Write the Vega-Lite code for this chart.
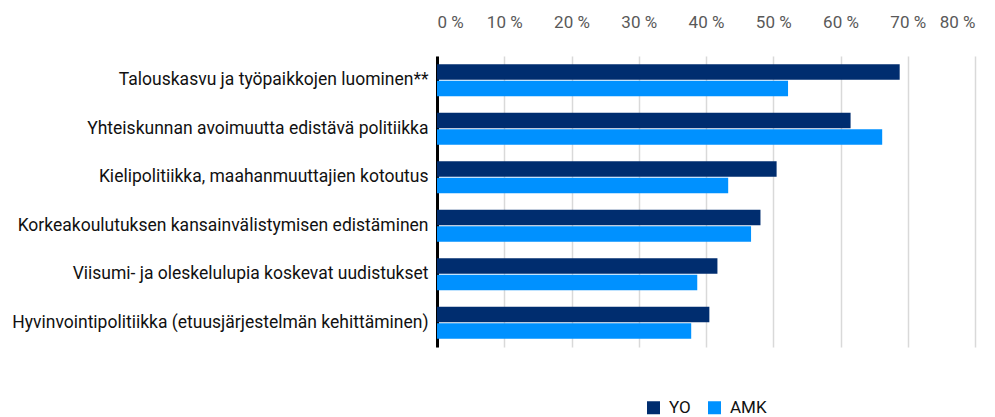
{
  "$schema": "https://vega.github.io/schema/vega-lite/v6.json",
  "autosize": "none",
  "width": 538,
  "height": 291,
  "padding": {"left": 437, "top": 56, "right": 20, "bottom": 70},
  "background": "white",
  "config": {
    "font": "Roboto",
    "view": {"stroke": null},
    "legend": {"layout": {"bottom": {"anchor": "middle"}}}
  },
  "data": {
    "values": [
      {"kategoria": "Talouskasvu ja työpaikkojen luominen**", "ryhma": "YO", "osuus": 68.8},
      {"kategoria": "Talouskasvu ja työpaikkojen luominen**", "ryhma": "AMK", "osuus": 52.2},
      {"kategoria": "Yhteiskunnan avoimuutta edistävä politiikka", "ryhma": "YO", "osuus": 61.5},
      {"kategoria": "Yhteiskunnan avoimuutta edistävä politiikka", "ryhma": "AMK", "osuus": 66.2},
      {"kategoria": "Kielipolitiikka, maahanmuuttajien kotoutus", "ryhma": "YO", "osuus": 50.5},
      {"kategoria": "Kielipolitiikka, maahanmuuttajien kotoutus", "ryhma": "AMK", "osuus": 43.3},
      {"kategoria": "Korkeakoulutuksen kansainvälistymisen edistäminen", "ryhma": "YO", "osuus": 48.1},
      {"kategoria": "Korkeakoulutuksen kansainvälistymisen edistäminen", "ryhma": "AMK", "osuus": 46.7},
      {"kategoria": "Viisumi- ja oleskelulupia koskevat uudistukset", "ryhma": "YO", "osuus": 41.7},
      {"kategoria": "Viisumi- ja oleskelulupia koskevat uudistukset", "ryhma": "AMK", "osuus": 38.7},
      {"kategoria": "Hyvinvointipolitiikka (etuusjärjestelmän kehittäminen)", "ryhma": "YO", "osuus": 40.5},
      {"kategoria": "Hyvinvointipolitiikka (etuusjärjestelmän kehittäminen)", "ryhma": "AMK", "osuus": 37.8}
    ]
  },
  "mark": {"type": "bar"},
  "encoding": {
    "y": {
      "field": "kategoria",
      "type": "nominal",
      "sort": null,
      "scale": {"paddingInner": 0.34, "paddingOuter": 0.17},
      "axis": {
        "title": null,
        "ticks": false,
        "domainColor": "#000000",
        "domainWidth": 3,
        "labelFontSize": 17.5,
        "labelColor": "#111111",
        "labelPadding": 9,
        "labelLimit": 0
      }
    },
    "yOffset": {
      "field": "ryhma",
      "type": "nominal",
      "sort": ["YO", "AMK"],
      "scale": {"paddingInner": 0.06, "paddingOuter": 0}
    },
    "x": {
      "field": "osuus",
      "type": "quantitative",
      "scale": {"domain": [0, 80]},
      "axis": {
        "orient": "top",
        "title": null,
        "values": [0, 10, 20, 30, 40, 50, 60, 70, 80],
        "labelExpr": "datum.value + ' %'",
        "domain": false,
        "ticks": false,
        "grid": true,
        "gridColor": "#d9d9d9",
        "gridWidth": 1.5,
        "labelFontSize": 17,
        "labelColor": "#595959",
        "labelPadding": 25
      }
    },
    "color": {
      "field": "ryhma",
      "type": "nominal",
      "sort": ["YO", "AMK"],
      "scale": {"domain": ["YO", "AMK"], "range": ["#002d6f", "#0091ff"]},
      "legend": {
        "orient": "bottom",
        "title": null,
        "direction": "horizontal",
        "symbolType": "square",
        "symbolSize": 169,
        "symbolStrokeWidth": 0,
        "labelFontSize": 17,
        "labelColor": "#111111",
        "columnPadding": 15,
        "labelOffset": 7,
        "offset": 52
      }
    }
  }
}
